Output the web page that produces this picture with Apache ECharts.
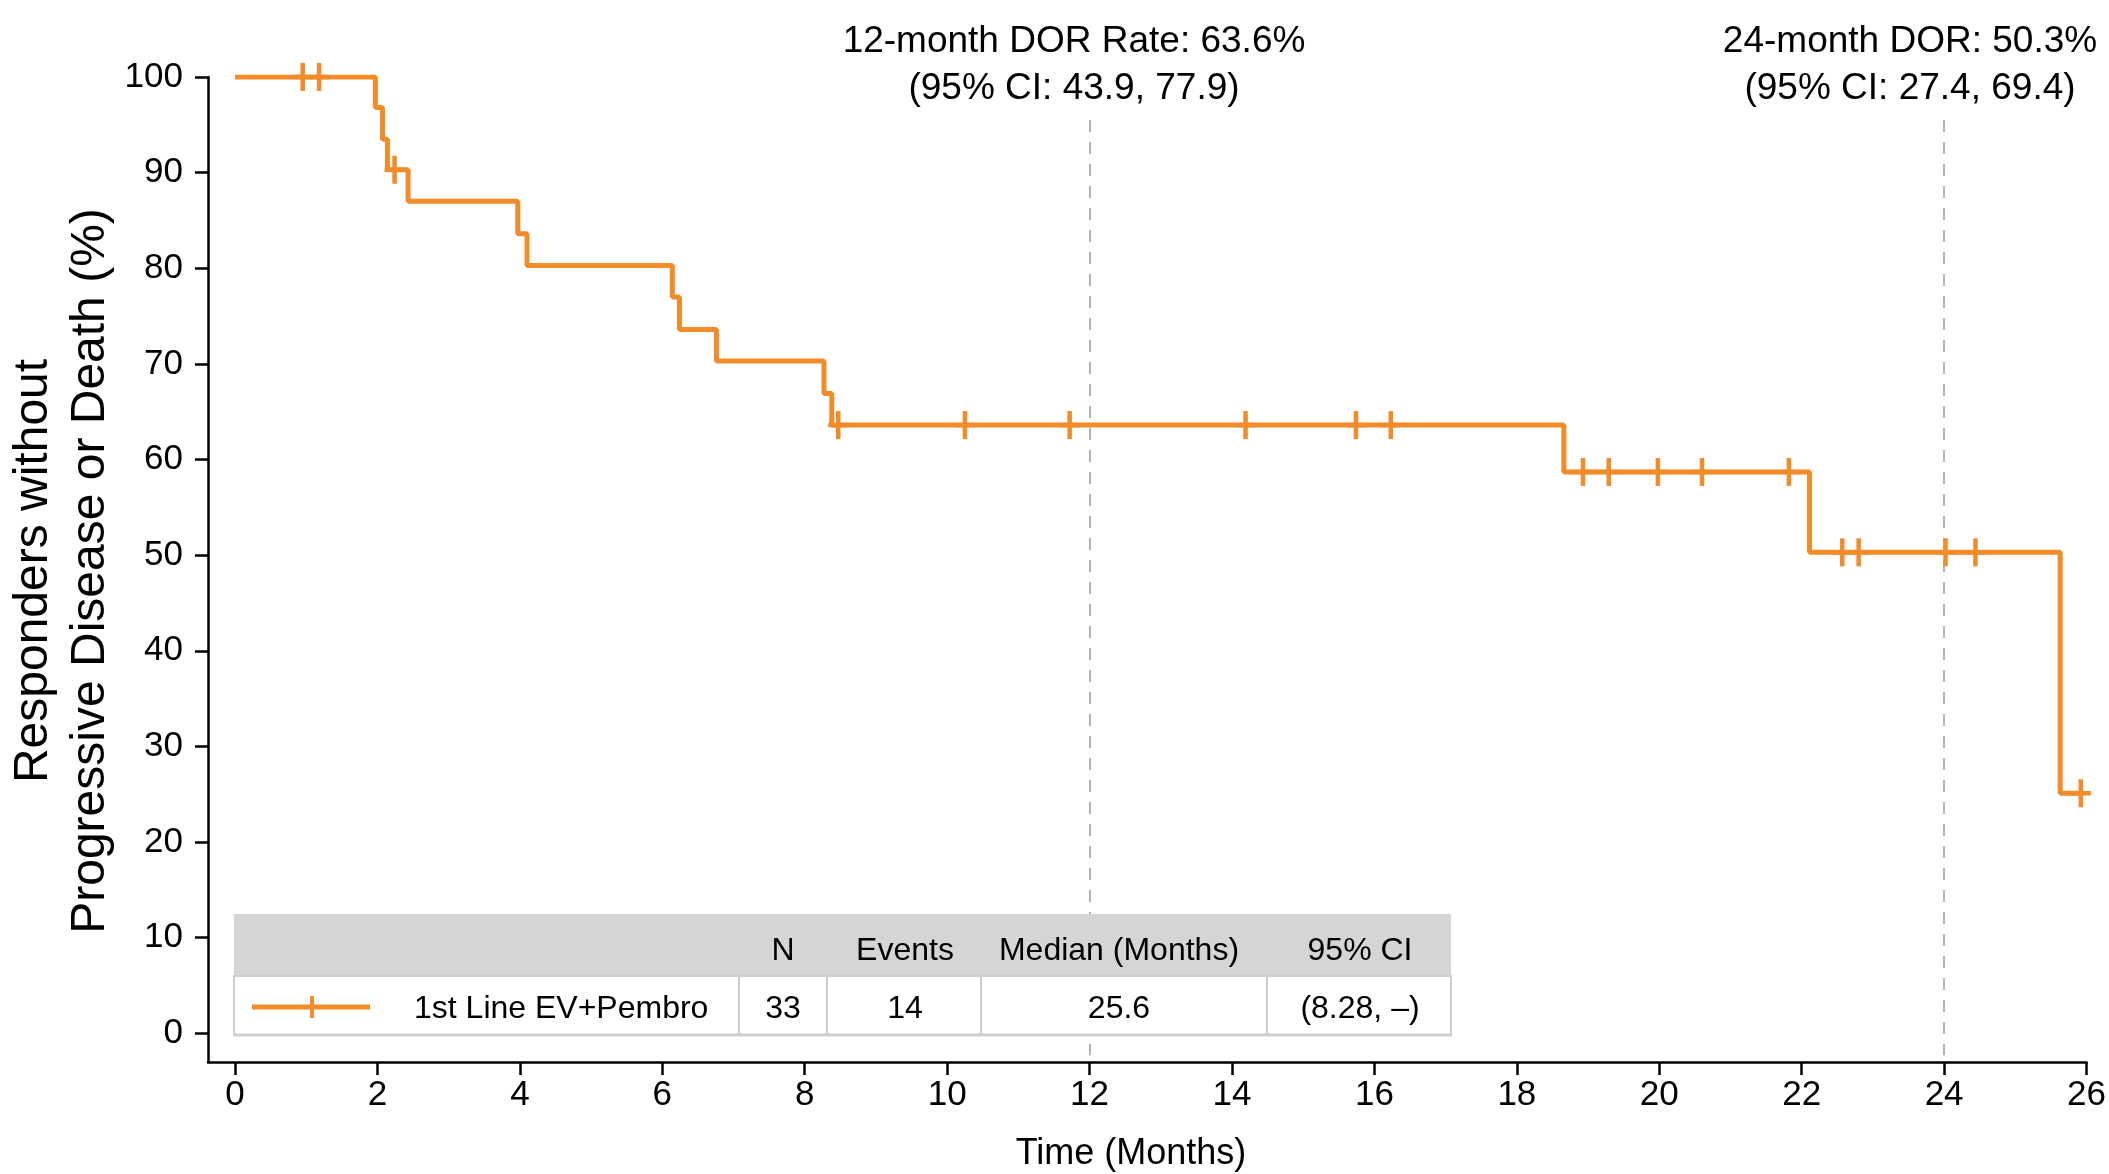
<!DOCTYPE html>
<html>
<head>
<meta charset="utf-8">
<script src="https://cdn.jsdelivr.net/npm/echarts@6/dist/echarts.min.js"></script>
<style>
html,body{margin:0;padding:0;background:#fff;}
#c{width:2109px;height:1174px;}
</style>
</head>
<body>
<div id="c"></div>
<script>
// ---- data ----
var stepTimes  = [0, 1.97, 2.07, 2.14, 2.43, 3.97, 4.10, 6.14, 6.24, 6.76, 8.27, 8.38, 18.66, 22.11, 25.63, 25.92];
var stepValues = [100, 96.8, 93.5, 90.3, 87.0, 83.6, 80.3, 77.0, 73.6, 70.3, 66.9, 63.6, 58.7, 50.3, 25.1, 25.1];
var censorTimes  = [0.95, 1.18, 2.24, 8.47, 10.25, 11.72, 14.19, 15.74, 16.23, 18.93, 19.29, 19.98, 20.60, 21.82, 22.57, 22.80, 24.02, 24.44, 25.92];
var censorValues = [100, 100, 90.3, 63.6, 63.6, 63.6, 63.6, 63.6, 63.6, 58.7, 58.7, 58.7, 58.7, 58.7, 50.3, 50.3, 50.3, 50.3, 25.1];
var xTicks = [0, 2, 4, 6, 8, 10, 12, 14, 16, 18, 20, 22, 24, 26];
var yTicks = [0, 10, 20, 30, 40, 50, 60, 70, 80, 90, 100];
var refMonths = [12, 24];
var annotations = [
  ['12-month DOR Rate: 63.6%', '(95% CI: 43.9, 77.9)'],
  ['24-month DOR: 50.3%', '(95% CI: 27.4, 69.4)']
];
var tableHeaders = ['N', 'Events', 'Median (Months)', '95% CI'];
var seriesName = '1st Line EV+Pembro';
var tableRow = ['33', '14', '25.6', '(8.28, \u2013)'];
var xTitle = 'Time (Months)';
var yTitle = 'Responders without\nProgressive Disease or Death (%)';

// ---- chart ----
var ORANGE = '#F28C28';
var FONT = "'Liberation Sans', Arial, Helvetica, sans-serif";
var chart = echarts.init(document.getElementById('c'), null, {renderer: 'canvas'});

var lineData = stepTimes.map(function (t, i) { return [t, stepValues[i]]; });
var censorData = censorTimes.map(function (t, i) { return [t, censorValues[i]]; });

var colX = [783, 905, 1119, 1360];
var tableGraphics = [
  {type: 'rect', z: 100, shape: {x: 234, y: 914, width: 1217, height: 62}, style: {fill: '#d4d5d7'}},
  {type: 'rect', z: 100, shape: {x: 234, y: 976, width: 1217, height: 59}, style: {fill: '#fff', stroke: '#cfcfcf', lineWidth: 2}},
  {type: 'line', z: 101, shape: {x1: 234, y1: 1035, x2: 1451, y2: 1035}, style: {stroke: '#cfcfcf', lineWidth: 3}}
];
[739, 827, 981, 1267].forEach(function (x) {
  tableGraphics.push({type: 'line', z: 101, shape: {x1: x, y1: 976, x2: x, y2: 1035}, style: {stroke: '#cfcfcf', lineWidth: 2}});
});
tableHeaders.forEach(function (h, i) {
  tableGraphics.push({type: 'text', z: 102, x: colX[i], y: 951, style: {text: h, font: '32px ' + FONT, fill: '#000', align: 'center', verticalAlign: 'middle'}});
});
tableRow.forEach(function (h, i) {
  tableGraphics.push({type: 'text', z: 102, x: colX[i], y: 1009, style: {text: h, font: '32px ' + FONT, fill: '#000', align: 'center', verticalAlign: 'middle'}});
});
tableGraphics.push({type: 'line', z: 102, shape: {x1: 252, y1: 1007, x2: 370, y2: 1007}, style: {stroke: ORANGE, lineWidth: 5}});
tableGraphics.push({type: 'line', z: 102, shape: {x1: 312, y1: 996, x2: 312, y2: 1018}, style: {stroke: ORANGE, lineWidth: 4}});
tableGraphics.push({type: 'text', z: 102, x: 414, y: 1009, style: {text: seriesName, font: '32px ' + FONT, fill: '#000', align: 'left', verticalAlign: 'middle'}});

var annX = [1074, 1910];
var annY = [42, 89];
var textGraphics = [];
annotations.forEach(function (a, i) {
  a.forEach(function (line, j) {
    textGraphics.push({type: 'text', z: 50, x: annX[i], y: annY[j], style: {text: line, font: '37px ' + FONT, fill: '#000', align: 'center', verticalAlign: 'middle'}});
  });
});
textGraphics.push({type: 'text', z: 50, x: 1131, y: 1154, style: {text: xTitle, font: '36px ' + FONT, fill: '#000', align: 'center', verticalAlign: 'middle'}});
textGraphics.push({type: 'text', z: 50, x: 62, y: 571, rotation: Math.PI / 2, style: {text: yTitle, font: '48px ' + FONT, lineHeight: 57, fill: '#000', align: 'center', verticalAlign: 'middle'}});

var option = {
  animation: false,
  backgroundColor: '#fff',
  grid: {left: 208, right: 14, top: 77, bottom: 112, containLabel: false},
  xAxis: {
    type: 'value', min: -0.38, max: 26,
    splitLine: {show: false},
    axisLine: {show: true, onZero: false, lineStyle: {color: '#000', width: 2.5}},
    axisTick: {show: true, customValues: xTicks, length: 13, lineStyle: {color: '#000', width: 2.5}},
    axisLabel: {customValues: xTicks, fontSize: 35, fontFamily: FONT, color: '#000', margin: 16}
  },
  yAxis: {
    type: 'value', min: -3, max: 100,
    splitLine: {show: false},
    axisLine: {show: true, onZero: false, lineStyle: {color: '#000', width: 2.5}},
    axisTick: {show: true, customValues: yTicks, length: 13, lineStyle: {color: '#000', width: 2.5}},
    axisLabel: {customValues: yTicks, fontSize: 35, fontFamily: FONT, color: '#000', margin: 25}
  },
  series: [
    {
      type: 'line', name: seriesName, step: 'end', data: lineData, symbol: 'none', z: 2,
      lineStyle: {color: ORANGE, width: 5}, itemStyle: {color: ORANGE},
      markLine: {
        silent: true, symbol: 'none', z: 3,
        label: {show: false},
        lineStyle: {color: '#b3b3b3', width: 2, type: [12, 10]},
        data: refMonths.map(function (m) { return [{coord: [m, 95.5]}, {coord: [m, -2.3]}]; })
      }
    },
    {
      type: 'custom', z: 4, data: censorData,
      renderItem: function (params, api) {
        var p = api.coord([api.value(0), api.value(1)]);
        return {
          type: 'group',
          children: [
            {type: 'line', shape: {x1: p[0], y1: p[1] - 14, x2: p[0], y2: p[1] + 14}, style: {stroke: ORANGE, lineWidth: 4.5}},
            {type: 'line', shape: {x1: p[0] - 10, y1: p[1], x2: p[0] + 10, y2: p[1]}, style: {stroke: ORANGE, lineWidth: 4.5}}
          ]
        };
      }
    }
  ],
  graphic: {elements: tableGraphics.concat(textGraphics)}
};
chart.setOption(option);
</script>
</body>
</html>
